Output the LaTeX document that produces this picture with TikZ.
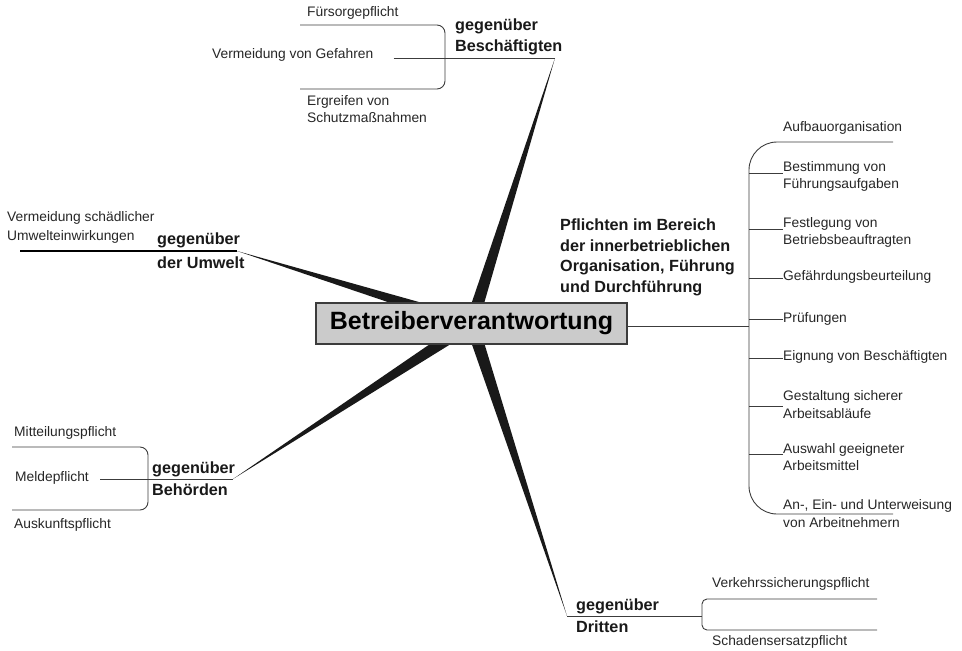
\documentclass[tikz,border=0pt]{standalone}
\usepackage{fontspec}
\setmainfont{Liberation Sans}
\usepackage{xcolor}
\usepackage{tikz}
\usetikzlibrary{calc,backgrounds}

\definecolor{linegray}{HTML}{3C3C3C}
\definecolor{hubgray}{HTML}{CBCBCB}

\begin{document}
\begin{tikzpicture}[
    x=1pt, y=-1pt,
    hub/.style={draw=linegray, line width=1.2pt, fill=hubgray, minimum width=311pt, minimum height=41pt, font=\fontsize{25}{30}\selectfont\bfseries},
    cat/.style={anchor=west, inner sep=0pt, align=left, font=\fontsize{16.2}{21}\selectfont\bfseries, text=black!90},
    item/.style={anchor=west, inner sep=0pt, align=left, font=\fontsize{13.8}{17.5}\selectfont, text=black!85},
    twig/.style={draw=linegray, line width=0.9pt},
    spoke/.style={fill=black!90}
]
\useasboundingbox (0,0) rectangle (962,651);

% centre
\node[hub] (hub) at (471.5,323.5) {Betreiberverantwortung};

% spoke tips
\coordinate (tipBesch) at (555,58);
\coordinate (tipUmwelt) at (237,251);
\coordinate (tipBehoerden) at (233,479);
\coordinate (tipDritten) at (567,616);

\begin{scope}[on background layer]
\foreach \t in {tipBesch,tipUmwelt,tipBehoerden,tipDritten}
    \fill[spoke] ($(hub.center)!6.5pt!90:(\t)$) -- (\t) -- ($(hub.center)!6.5pt!-90:(\t)$) -- cycle;
\end{scope}

% gegenueber Beschaeftigten
\node[cat] (besch) at (455,37) {gegenüber\\Beschäftigten};
\node[item] (fuersorge) at (307,13) {Fürsorgepflicht};
\node[item] (gefahren) at (212,55) {Vermeidung von Gefahren};
\node[item] (schutz) at (307,109) {Ergreifen von\\Schutzmaßnahmen};
\draw[twig] ([xshift=20pt]gefahren.east |- tipBesch) -- (tipBesch);
\draw[twig, rounded corners=8pt] (300,25) -- (445,25) -- (445,89) -- (300,89);

% gegenueber der Umwelt
\node[cat] (umwelt) at (157,251) {gegenüber\\[3pt]der Umwelt};
\node[item, font=\fontsize{13.8}{19}\selectfont] (schaedlich) at (7,227.5) {Vermeidung schädlicher\\Umwelteinwirkungen};
\draw[black, line width=1.6pt] (20,251) -- (tipUmwelt);

% gegenueber Behoerden
\node[cat] (behoerden) at (152,479) {gegenüber\\[1pt]Behörden};
\node[item] (mitteilung) at (14,433) {Mitteilungspflicht};
\node[item] (melde) at (15,478) {Meldepflicht};
\node[item] (auskunft) at (14,525) {Auskunftspflicht};
\draw[twig] (100,479) -- (tipBehoerden);
\draw[twig, rounded corners=8pt] (12,447) -- (148,447) -- (148,510) -- (12,510);

% gegenueber Dritten
\node[cat] (dritten) at (576,616) {gegenüber\\[1pt]Dritten};
\node[item] (verkehr) at (712,584) {Verkehrssicherungspflicht};
\node[item] (schaden) at (712,642) {Schadensersatzpflicht};
\draw[twig] (tipDritten) -- (702,616);
\draw[twig, rounded corners=5pt] (877,599) -- (702,599) -- (702,630) -- (877,630);

% Organisation, Fuehrung und Durchfuehrung
\node[cat, font=\fontsize{16.2}{20.5}\selectfont\bfseries] (pflichten) at (560,257.5) {Pflichten im Bereich\\der innerbetrieblichen\\Organisation, Führung\\und Durchführung};
\draw[twig] (hub.east |- 0,326) -- (749,326);
\draw[twig, rounded corners=28pt] (893,142) -- (749,142) -- (749,514) -- (893,514);

\node[item] (aufbau) at (783,128) {Aufbauorganisation};
\node[item] (bestimmung) at (783,176.5) {Bestimmung von\\Führungsaufgaben};
\node[item] (festlegung) at (783,232.5) {Festlegung von\\Betriebsbeauftragten};
\node[item] (gefaehrdung) at (783,277) {Gefährdungsbeurteilung};
\node[item] (pruefung) at (783,319) {Prüfungen};
\node[item] (eignung) at (783,357) {Eignung von Beschäftigten};
\node[item] (gestaltung) at (783,404.5) {Gestaltung sicherer\\Arbeitsabläufe};
\node[item] (auswahl) at (783,457) {Auswahl geeigneter\\Arbeitsmittel};
\node[item] (unterweisung) at (783,513.5) {An-, Ein- und Unterweisung\\von Arbeitnehmern};

\foreach \n/\y in {bestimmung/173,festlegung/229,gefaehrdung/278,pruefung/319,eignung/358,gestaltung/406,auswahl/454}
    \draw[twig] (749,\y) -- (\n.west |- 0,\y);

\end{tikzpicture}
\end{document}
